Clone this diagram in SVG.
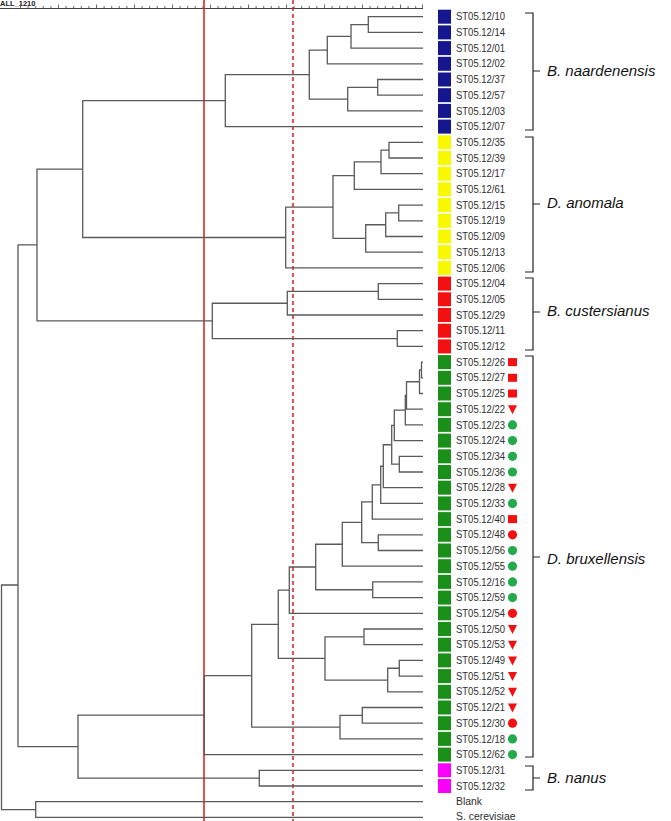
<svg xmlns="http://www.w3.org/2000/svg" width="671" height="821" viewBox="0 0 671 821">
<style>
.tree{fill:none;stroke:#5a5a5a;stroke-width:1.3}
.lbl{font-family:"Liberation Sans",Arial,sans-serif;font-size:10.4px;fill:#2e2e2e}
.sp{font-family:"Liberation Sans",Arial,sans-serif;font-size:15px;font-style:italic;fill:#111}
.br{fill:none;stroke:#222;stroke-width:1.2}
.blue{fill:#16168e}.yel{fill:#f8f800}.red{fill:#f21010}.grn{fill:#1a901a}.mag{fill:#fa00fa}
.rs{fill:#f21010}.gc{fill:#22aa4c}
</style>
<defs>
<rect id="sq" x="-6.5" y="-7" width="13" height="14"/>
<rect id="msq" x="-4.5" y="-4" width="9" height="8"/>
<path id="mtri" d="M-4.5 -4 H4.5 L0 5 Z"/>
<circle id="mcir" r="4.6"/>
</defs>
<g id="ruler">
<text x="0" y="6" font-family="Liberation Sans,Arial,sans-serif" font-size="7.5" font-weight="bold" fill="#222">ALL_1210</text>
<path d="M0 8.5 H423" stroke="#444" stroke-width="1" fill="none"/>
<path stroke="#444" stroke-width="0.8" fill="none" d="M20.5 8.5V4.5M28.1 8.5V6M35.7 8.5V6M43.3 8.5V6M50.9 8.5V6M58.5 8.5V4.5M66.1 8.5V6M73.7 8.5V6M81.3 8.5V6M88.9 8.5V6M96.5 8.5V4.5M104.1 8.5V6M111.7 8.5V6M119.3 8.5V6M126.9 8.5V6M134.5 8.5V4.5M142.1 8.5V6M149.7 8.5V6M157.3 8.5V6M164.9 8.5V6M172.5 8.5V4.5M180.1 8.5V6M187.7 8.5V6M195.3 8.5V6M202.9 8.5V6M210.5 8.5V4.5M218.1 8.5V6M225.7 8.5V6M233.3 8.5V6M240.9 8.5V6M248.5 8.5V4.5M256.1 8.5V6M263.7 8.5V6M271.3 8.5V6M278.9 8.5V6M286.5 8.5V4.5M294.1 8.5V6M301.7 8.5V6M309.3 8.5V6M316.9 8.5V6M324.5 8.5V4.5M332.1 8.5V6M339.7 8.5V6M347.3 8.5V6M354.9 8.5V6M362.5 8.5V4.5M370.1 8.5V6M377.7 8.5V6M385.3 8.5V6M392.9 8.5V6M400.5 8.5V4.5M408.1 8.5V6M415.7 8.5V6M422.5 8.5V4.5"/>
</g>
<g id="cutoffs">
<line x1="204" y1="0" x2="204" y2="821" stroke="#e02828" stroke-width="1.6"/>
<line x1="293" y1="0" x2="293" y2="821" stroke="#e02828" stroke-width="1.6" stroke-dasharray="4 3"/>
</g>
<g id="connectors" class="tree">
<path d="M423 16.7H368.3V32.4H423"/>
<path d="M368.3 24.55H351V48.1H423"/>
<path d="M351 36.33H327.3V63.8H423"/>
<path d="M423 79.5H377.7V95.2H423"/>
<path d="M377.7 87.35H347.7V110.9H423"/>
<path d="M327.3 50.06H309.3V99.13H347.7"/>
<path d="M309.3 74.6H225.3V126.6H423"/>
<path d="M423 142.3H389V158H423"/>
<path d="M389 150.15H381V173.7H423"/>
<path d="M381 161.93H354.3V189.4H423"/>
<path d="M423 205.1H398.7V220.8H423"/>
<path d="M398.7 212.95H385.7V236.5H423"/>
<path d="M385.7 224.73H365.7V252.2H423"/>
<path d="M354.3 175.66H333V238.46H365.7"/>
<path d="M333 207.06H285.7V267.9H423"/>
<path d="M225.3 100.6H82.7V237.48H285.7"/>
<path d="M423 283.6H378.3V299.3H423"/>
<path d="M378.3 291.45H287.3V315H423"/>
<path d="M423 330.7H397.3V346.4H423"/>
<path d="M287.3 303.23H212.3V338.55H397.3"/>
<path d="M82.7 169.04H37V320.89H212.3"/>
<path d="M423 362.1H421.5V377.8H423"/>
<path d="M421.5 369.95H419.5V393.5H423"/>
<path d="M419.5 381.73H406.5V409.2H423"/>
<path d="M406.5 395.46H405.3V424.9H423"/>
<path d="M405.3 410.18H394.3V440.6H423"/>
<path d="M423 456.3H399.3V472H423"/>
<path d="M394.3 425.39H391.7V464.15H399.3"/>
<path d="M391.7 444.77H383.3V487.7H423"/>
<path d="M383.3 466.23H380.7V503.4H423"/>
<path d="M380.7 484.82H372.3V519.1H423"/>
<path d="M423 534.8H378.3V550.5H423"/>
<path d="M372.3 501.96H361.7V542.65H378.3"/>
<path d="M361.7 522.3H342.3V566.2H423"/>
<path d="M423 581.9H372.7V597.6H423"/>
<path d="M342.3 544.25H315.7V589.75H372.7"/>
<path d="M315.7 567H289.3V613.3H423"/>
<path d="M423 629H364V644.7H423"/>
<path d="M423 660.4H399.3V676.1H423"/>
<path d="M399.3 668.25H387.7V691.8H423"/>
<path d="M364 636.85H325V680.03H387.7"/>
<path d="M289.3 590.15H278.3V658.44H325"/>
<path d="M423 707.5H362.3V723.2H423"/>
<path d="M362.3 715.35H340V738.9H423"/>
<path d="M278.3 624.3H251.7V727.13H340"/>
<path d="M251.7 675.7H204.3V754.6H423"/>
<path d="M423 770.3H259.3V786H423"/>
<path d="M204.3 715.15H78V778.15H259.3"/>
<path d="M37 244.97H18V746.65H78"/>
<path d="M423 801.7H35.7V817.4H423"/>
<path d="M18 585H1.5V809.55H35.7"/>
</g>
<g id="leaves">
<g id="n10" transform="translate(0,16.7)"><use href="#sq" x="444.5" class="blue"/><text class="lbl" x="456" y="3.6" textLength="49" lengthAdjust="spacingAndGlyphs">ST05.12/10</text></g>
<g id="n14" transform="translate(0,32.4)"><use href="#sq" x="444.5" class="blue"/><text class="lbl" x="456" y="3.6" textLength="49" lengthAdjust="spacingAndGlyphs">ST05.12/14</text></g>
<g id="n01" transform="translate(0,48.1)"><use href="#sq" x="444.5" class="blue"/><text class="lbl" x="456" y="3.6" textLength="49" lengthAdjust="spacingAndGlyphs">ST05.12/01</text></g>
<g id="n02" transform="translate(0,63.8)"><use href="#sq" x="444.5" class="blue"/><text class="lbl" x="456" y="3.6" textLength="49" lengthAdjust="spacingAndGlyphs">ST05.12/02</text></g>
<g id="n37" transform="translate(0,79.5)"><use href="#sq" x="444.5" class="blue"/><text class="lbl" x="456" y="3.6" textLength="49" lengthAdjust="spacingAndGlyphs">ST05.12/37</text></g>
<g id="n57" transform="translate(0,95.2)"><use href="#sq" x="444.5" class="blue"/><text class="lbl" x="456" y="3.6" textLength="49" lengthAdjust="spacingAndGlyphs">ST05.12/57</text></g>
<g id="n03" transform="translate(0,110.9)"><use href="#sq" x="444.5" class="blue"/><text class="lbl" x="456" y="3.6" textLength="49" lengthAdjust="spacingAndGlyphs">ST05.12/03</text></g>
<g id="n07" transform="translate(0,126.6)"><use href="#sq" x="444.5" class="blue"/><text class="lbl" x="456" y="3.6" textLength="49" lengthAdjust="spacingAndGlyphs">ST05.12/07</text></g>
<g id="n35" transform="translate(0,142.3)"><use href="#sq" x="444.5" class="yel"/><text class="lbl" x="456" y="3.6" textLength="49" lengthAdjust="spacingAndGlyphs">ST05.12/35</text></g>
<g id="n39" transform="translate(0,158)"><use href="#sq" x="444.5" class="yel"/><text class="lbl" x="456" y="3.6" textLength="49" lengthAdjust="spacingAndGlyphs">ST05.12/39</text></g>
<g id="n17" transform="translate(0,173.7)"><use href="#sq" x="444.5" class="yel"/><text class="lbl" x="456" y="3.6" textLength="49" lengthAdjust="spacingAndGlyphs">ST05.12/17</text></g>
<g id="n61" transform="translate(0,189.4)"><use href="#sq" x="444.5" class="yel"/><text class="lbl" x="456" y="3.6" textLength="49" lengthAdjust="spacingAndGlyphs">ST05.12/61</text></g>
<g id="n15" transform="translate(0,205.1)"><use href="#sq" x="444.5" class="yel"/><text class="lbl" x="456" y="3.6" textLength="49" lengthAdjust="spacingAndGlyphs">ST05.12/15</text></g>
<g id="n19" transform="translate(0,220.8)"><use href="#sq" x="444.5" class="yel"/><text class="lbl" x="456" y="3.6" textLength="49" lengthAdjust="spacingAndGlyphs">ST05.12/19</text></g>
<g id="n09" transform="translate(0,236.5)"><use href="#sq" x="444.5" class="yel"/><text class="lbl" x="456" y="3.6" textLength="49" lengthAdjust="spacingAndGlyphs">ST05.12/09</text></g>
<g id="n13" transform="translate(0,252.2)"><use href="#sq" x="444.5" class="yel"/><text class="lbl" x="456" y="3.6" textLength="49" lengthAdjust="spacingAndGlyphs">ST05.12/13</text></g>
<g id="n06" transform="translate(0,267.9)"><use href="#sq" x="444.5" class="yel"/><text class="lbl" x="456" y="3.6" textLength="49" lengthAdjust="spacingAndGlyphs">ST05.12/06</text></g>
<g id="n04" transform="translate(0,283.6)"><use href="#sq" x="444.5" class="red"/><text class="lbl" x="456" y="3.6" textLength="49" lengthAdjust="spacingAndGlyphs">ST05.12/04</text></g>
<g id="n05" transform="translate(0,299.3)"><use href="#sq" x="444.5" class="red"/><text class="lbl" x="456" y="3.6" textLength="49" lengthAdjust="spacingAndGlyphs">ST05.12/05</text></g>
<g id="n29" transform="translate(0,315)"><use href="#sq" x="444.5" class="red"/><text class="lbl" x="456" y="3.6" textLength="49" lengthAdjust="spacingAndGlyphs">ST05.12/29</text></g>
<g id="n11" transform="translate(0,330.7)"><use href="#sq" x="444.5" class="red"/><text class="lbl" x="456" y="3.6" textLength="49" lengthAdjust="spacingAndGlyphs">ST05.12/11</text></g>
<g id="n12" transform="translate(0,346.4)"><use href="#sq" x="444.5" class="red"/><text class="lbl" x="456" y="3.6" textLength="49" lengthAdjust="spacingAndGlyphs">ST05.12/12</text></g>
<g id="n26" transform="translate(0,362.1)"><use href="#sq" x="444.5" class="grn"/><text class="lbl" x="456" y="3.6" textLength="49" lengthAdjust="spacingAndGlyphs">ST05.12/26</text><use href="#msq" x="512.5" class="rs"/></g>
<g id="n27" transform="translate(0,377.8)"><use href="#sq" x="444.5" class="grn"/><text class="lbl" x="456" y="3.6" textLength="49" lengthAdjust="spacingAndGlyphs">ST05.12/27</text><use href="#msq" x="512.5" class="rs"/></g>
<g id="n25" transform="translate(0,393.5)"><use href="#sq" x="444.5" class="grn"/><text class="lbl" x="456" y="3.6" textLength="49" lengthAdjust="spacingAndGlyphs">ST05.12/25</text><use href="#msq" x="512.5" class="rs"/></g>
<g id="n22" transform="translate(0,409.2)"><use href="#sq" x="444.5" class="grn"/><text class="lbl" x="456" y="3.6" textLength="49" lengthAdjust="spacingAndGlyphs">ST05.12/22</text><use href="#mtri" x="512.5" class="rs"/></g>
<g id="n23" transform="translate(0,424.9)"><use href="#sq" x="444.5" class="grn"/><text class="lbl" x="456" y="3.6" textLength="49" lengthAdjust="spacingAndGlyphs">ST05.12/23</text><use href="#mcir" x="512.5" class="gc"/></g>
<g id="n24" transform="translate(0,440.6)"><use href="#sq" x="444.5" class="grn"/><text class="lbl" x="456" y="3.6" textLength="49" lengthAdjust="spacingAndGlyphs">ST05.12/24</text><use href="#mcir" x="512.5" class="gc"/></g>
<g id="n34" transform="translate(0,456.3)"><use href="#sq" x="444.5" class="grn"/><text class="lbl" x="456" y="3.6" textLength="49" lengthAdjust="spacingAndGlyphs">ST05.12/34</text><use href="#mcir" x="512.5" class="gc"/></g>
<g id="n36" transform="translate(0,472)"><use href="#sq" x="444.5" class="grn"/><text class="lbl" x="456" y="3.6" textLength="49" lengthAdjust="spacingAndGlyphs">ST05.12/36</text><use href="#mcir" x="512.5" class="gc"/></g>
<g id="n28" transform="translate(0,487.7)"><use href="#sq" x="444.5" class="grn"/><text class="lbl" x="456" y="3.6" textLength="49" lengthAdjust="spacingAndGlyphs">ST05.12/28</text><use href="#mtri" x="512.5" class="rs"/></g>
<g id="n33" transform="translate(0,503.4)"><use href="#sq" x="444.5" class="grn"/><text class="lbl" x="456" y="3.6" textLength="49" lengthAdjust="spacingAndGlyphs">ST05.12/33</text><use href="#mcir" x="512.5" class="gc"/></g>
<g id="n40" transform="translate(0,519.1)"><use href="#sq" x="444.5" class="grn"/><text class="lbl" x="456" y="3.6" textLength="49" lengthAdjust="spacingAndGlyphs">ST05.12/40</text><use href="#msq" x="512.5" class="rs"/></g>
<g id="n48" transform="translate(0,534.8)"><use href="#sq" x="444.5" class="grn"/><text class="lbl" x="456" y="3.6" textLength="49" lengthAdjust="spacingAndGlyphs">ST05.12/48</text><use href="#mcir" x="512.5" class="rs"/></g>
<g id="n56" transform="translate(0,550.5)"><use href="#sq" x="444.5" class="grn"/><text class="lbl" x="456" y="3.6" textLength="49" lengthAdjust="spacingAndGlyphs">ST05.12/56</text><use href="#mcir" x="512.5" class="gc"/></g>
<g id="n55" transform="translate(0,566.2)"><use href="#sq" x="444.5" class="grn"/><text class="lbl" x="456" y="3.6" textLength="49" lengthAdjust="spacingAndGlyphs">ST05.12/55</text><use href="#mcir" x="512.5" class="gc"/></g>
<g id="n16" transform="translate(0,581.9)"><use href="#sq" x="444.5" class="grn"/><text class="lbl" x="456" y="3.6" textLength="49" lengthAdjust="spacingAndGlyphs">ST05.12/16</text><use href="#mcir" x="512.5" class="gc"/></g>
<g id="n59" transform="translate(0,597.6)"><use href="#sq" x="444.5" class="grn"/><text class="lbl" x="456" y="3.6" textLength="49" lengthAdjust="spacingAndGlyphs">ST05.12/59</text><use href="#mcir" x="512.5" class="gc"/></g>
<g id="n54" transform="translate(0,613.3)"><use href="#sq" x="444.5" class="grn"/><text class="lbl" x="456" y="3.6" textLength="49" lengthAdjust="spacingAndGlyphs">ST05.12/54</text><use href="#mcir" x="512.5" class="rs"/></g>
<g id="n50" transform="translate(0,629)"><use href="#sq" x="444.5" class="grn"/><text class="lbl" x="456" y="3.6" textLength="49" lengthAdjust="spacingAndGlyphs">ST05.12/50</text><use href="#mtri" x="512.5" class="rs"/></g>
<g id="n53" transform="translate(0,644.7)"><use href="#sq" x="444.5" class="grn"/><text class="lbl" x="456" y="3.6" textLength="49" lengthAdjust="spacingAndGlyphs">ST05.12/53</text><use href="#mtri" x="512.5" class="rs"/></g>
<g id="n49" transform="translate(0,660.4)"><use href="#sq" x="444.5" class="grn"/><text class="lbl" x="456" y="3.6" textLength="49" lengthAdjust="spacingAndGlyphs">ST05.12/49</text><use href="#mtri" x="512.5" class="rs"/></g>
<g id="n51" transform="translate(0,676.1)"><use href="#sq" x="444.5" class="grn"/><text class="lbl" x="456" y="3.6" textLength="49" lengthAdjust="spacingAndGlyphs">ST05.12/51</text><use href="#mtri" x="512.5" class="rs"/></g>
<g id="n52" transform="translate(0,691.8)"><use href="#sq" x="444.5" class="grn"/><text class="lbl" x="456" y="3.6" textLength="49" lengthAdjust="spacingAndGlyphs">ST05.12/52</text><use href="#mtri" x="512.5" class="rs"/></g>
<g id="n21" transform="translate(0,707.5)"><use href="#sq" x="444.5" class="grn"/><text class="lbl" x="456" y="3.6" textLength="49" lengthAdjust="spacingAndGlyphs">ST05.12/21</text><use href="#mtri" x="512.5" class="rs"/></g>
<g id="n30" transform="translate(0,723.2)"><use href="#sq" x="444.5" class="grn"/><text class="lbl" x="456" y="3.6" textLength="49" lengthAdjust="spacingAndGlyphs">ST05.12/30</text><use href="#mcir" x="512.5" class="rs"/></g>
<g id="n18" transform="translate(0,738.9)"><use href="#sq" x="444.5" class="grn"/><text class="lbl" x="456" y="3.6" textLength="49" lengthAdjust="spacingAndGlyphs">ST05.12/18</text><use href="#mcir" x="512.5" class="gc"/></g>
<g id="n62" transform="translate(0,754.6)"><use href="#sq" x="444.5" class="grn"/><text class="lbl" x="456" y="3.6" textLength="49" lengthAdjust="spacingAndGlyphs">ST05.12/62</text><use href="#mcir" x="512.5" class="gc"/></g>
<g id="n31" transform="translate(0,770.3)"><use href="#sq" x="444.5" class="mag"/><text class="lbl" x="456" y="3.6" textLength="49" lengthAdjust="spacingAndGlyphs">ST05.12/31</text></g>
<g id="n32" transform="translate(0,786)"><use href="#sq" x="444.5" class="mag"/><text class="lbl" x="456" y="3.6" textLength="49" lengthAdjust="spacingAndGlyphs">ST05.12/32</text></g>
<g id="blank" transform="translate(0,801.7)"><text class="lbl" x="456" y="3.4">Blank</text></g>
<g id="scer" transform="translate(0,816.6)"><text class="lbl" x="456" y="3">S. cerevisiae</text></g>
</g>
<g id="groups">
<g id="g-naard"><path class="br" d="M525 13H533V130H525M533 71H540"/><text class="sp" x="547" y="76">B. naardenensis</text></g>
<g id="g-anom"><path class="br" d="M525 137H533V272H525M533 204H540"/><text class="sp" x="547" y="208">D. anomala</text></g>
<g id="g-cust"><path class="br" d="M525 278H533V350H525M533 312H540"/><text class="sp" x="547" y="316">B. custersianus</text></g>
<g id="g-brux"><path class="br" d="M525 356H533V757H525M533 557H540"/><text class="sp" x="547" y="564">D. bruxellensis</text></g>
<g id="g-nanus"><path class="br" d="M525 766H533V790H525M533 778H540"/><text class="sp" x="547" y="783">B. nanus</text></g>
</g>
</svg>
